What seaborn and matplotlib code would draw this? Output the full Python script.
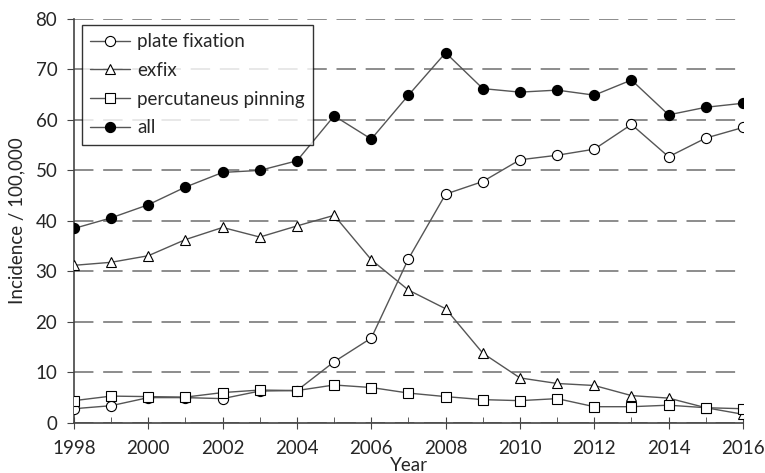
import numpy as np
import pandas as pd
import matplotlib.pyplot as plt
import seaborn as sns
from matplotlib.ticker import MultipleLocator

# valores
years = list(range(1998, 2017))
plate_fixation = [2.8, 3.4, 5.0, 5.0, 4.8, 6.3, 6.4, 12.1, 16.8, 32.5, 45.3,
                  47.8, 52.1, 53.0, 54.2, 59.1, 52.7, 56.4, 58.5]
exfix = [31.2, 31.8, 33.1, 36.3, 38.7, 36.8, 39.0, 41.1, 32.3, 26.3, 22.6,
         13.8, 8.9, 7.8, 7.4, 5.4, 4.9, 3.0, 1.7]
pinning = [4.4, 5.3, 5.2, 5.1, 6.0, 6.5, 6.4, 7.5, 7.0, 5.9, 5.2,
           4.6, 4.4, 4.8, 3.2, 3.2, 3.5, 3.0, 2.8]
all_cases = [38.5, 40.6, 43.2, 46.7, 49.6, 50.0, 51.9, 60.8, 56.2, 64.9, 73.3,
             66.2, 65.5, 65.9, 64.9, 67.9, 61.0, 62.5, 63.3]
series = ['plate fixation', 'exfix', 'percutaneus pinning', 'all']

datos = pd.DataFrame({
    'Year': years * 4,
    'Incidence': plate_fixation + exfix + pinning + all_cases,
    'Serie': np.repeat(series, len(years)),
})

sns.set_style("ticks")
plt.rcParams['font.family'] = ['Lato', 'DejaVu Sans']

fig = plt.figure(figsize=(7.65, 4.73), dpi=100)
ax = fig.add_axes([0.0967, 0.106, 0.8745, 0.854])

estilos = {'plate fixation': ('o', 'white'), 'exfix': ('^', 'white'),
           'percutaneus pinning': ('s', 'white'), 'all': ('o', 'black')}
linea = '#555555'
for s in series:
    m, fc = estilos[s]
    sns.lineplot(data=datos[datos['Serie'] == s], x='Year', y='Incidence',
                 color=linea, lw=1, marker=m, markersize=7.3 if m != 's' else 6.8,
                 markerfacecolor=fc, markeredgecolor='black', markeredgewidth=0.8,
                 label=s, ax=ax, zorder=3)

ax.set_xlim(1998, 2016)
ax.set_ylim(0, 80)
ax.xaxis.set_major_locator(MultipleLocator(2))
ax.xaxis.set_minor_locator(MultipleLocator(1))
ax.yaxis.set_major_locator(MultipleLocator(10))
ax.yaxis.grid(True, color='#8c8c8c', ls=(0, (10, 5)), lw=1.4)
ax.set_axisbelow(True)
for lado in ['top', 'right']:
    ax.spines[lado].set_visible(False)
for lado in ['left', 'bottom']:
    ax.spines[lado].set_color('#444444')
    ax.spines[lado].set_linewidth(1.2)
ax.tick_params(axis='x', which='major', direction='inout', length=9, labelsize=13.5,
               pad=8, color='#444444')
ax.tick_params(axis='x', which='minor', direction='in', length=4, color='#444444')
ax.tick_params(axis='y', direction='out', length=5, labelsize=13.5, pad=7,
               color='#444444')
ax.set_xlabel('Year', fontsize=13.5, labelpad=0)
ax.set_ylabel('Incidence / 100,000', fontsize=13.5, labelpad=7)

leg = ax.legend(loc='upper left', fontsize=13.5, frameon=True, fancybox=False,
                edgecolor='black', borderpad=0.45, labelspacing=0.62,
                handlelength=2.1, handletextpad=0.4, borderaxespad=0,
                bbox_to_anchor=(0.012, 0.985))
leg.get_frame().set_linewidth(1)

plt.savefig('out.png', dpi=100)
